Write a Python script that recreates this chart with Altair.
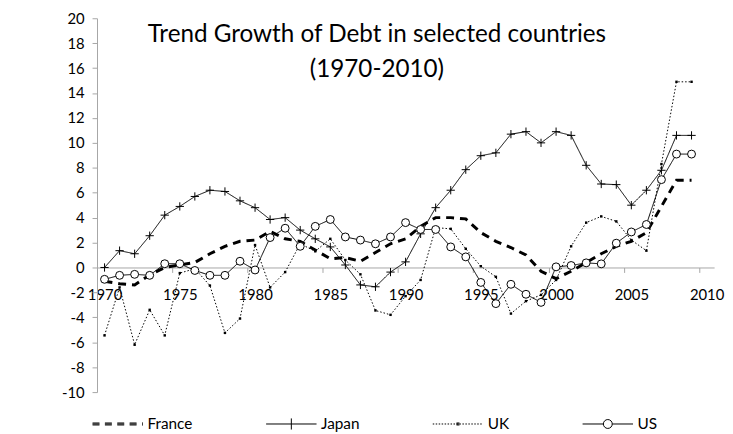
import altair as alt
import pandas as pd

# ---------------- data ----------------
years = list(range(1970, 2010))
countries = ["France", "Japan", "UK", "US"]

france = [-1.1, -1.3, -1.4, -0.6, 0.0, 0.2, 0.4, 1.1, 1.7, 2.1,
          2.2, 2.9, 2.3, 2.1, 1.4, 0.7, 0.8, 0.5, 1.2, 1.9,
          2.3, 3.3, 4.0, 4.0, 3.9, 2.8, 2.1, 1.6, 1.0, -0.3,
          -0.9, -0.3, 0.4, 1.1, 1.7, 2.1, 2.8, 4.9, 7.0, 7.0]
japan = [0.0, 1.35, 1.1, 2.55, 4.2, 4.9, 5.7, 6.2, 6.1, 5.35,
         4.8, 3.85, 4.0, 3.0, 2.3, 1.65, 0.2, -1.4, -1.55, -0.37,
         0.45, 2.7, 4.8, 6.2, 7.85, 8.97, 9.2, 10.7, 10.9, 10.0,
         10.9, 10.6, 8.2, 6.7, 6.65, 5.0, 6.2, 7.8, 10.6, 10.6]
uk = [-5.45, -1.6, -6.2, -3.4, -5.45, -0.45, -0.1, -1.45, -5.25, -4.1,
      1.8, -1.6, -0.37, 1.9, 1.3, 2.3, 0.6, -0.55, -3.45, -3.8,
      -2.3, -1.0, 3.2, 3.1, 1.5, 0.1, -0.75, -3.7, -2.7, -2.2,
      -1.0, 1.7, 3.6, 4.1, 3.7, 2.2, 1.35, 8.3, 14.9, 14.9]
us = [-0.95, -0.63, -0.55, -0.63, 0.3, 0.3, -0.24, -0.63, -0.63, 0.5,
      -0.2, 2.4, 3.15, 1.7, 3.3, 3.85, 2.45, 2.2, 1.9, 2.45,
      3.6, 3.05, 3.05, 1.65, 0.85, -1.2, -2.9, -1.35, -2.15, -2.8,
      0.05, 0.16, 0.37, 0.29, 1.95, 2.85, 3.45, 7.05, 9.1, 9.1]

x_labels = list(range(1970, 2011, 5))
y_ticks = list(range(-10, 21, 2))
title_lines = ["Trend Growth of Debt in selected countries", "(1970-2010)"]

rows = []
for name, vals in zip(countries, [france, japan, uk, us]):
    for yr, v in zip(years, vals):
        rows.append({"year": yr, "country": name, "value": v})
df = pd.DataFrame(rows)
legend_df = df[df["year"] == years[0]].rename(columns={"country": "series"})

# ---------------- layout ----------------
W, H = 624, 378
half = W / 41 / 2          # half a category, in px
FONT = "Lato"

x_enc = alt.X("year:Q",
              scale=alt.Scale(domain=[1969.5, 2010.5], nice=False, zero=False),
              axis=alt.Axis(values=x_labels, format="d", title=None,
                            orient="bottom", offset=-H * 10 / 30,
                            tickOffset=-half, labelOffset=half,
                            tickSize=5, labelPadding=15, labelFlush=False,
                            labelOverlap=False))
y_enc = alt.Y("value:Q",
              scale=alt.Scale(domain=[-10, 20], nice=False, zero=False),
              axis=alt.Axis(values=y_ticks, title=None, tickSize=5,
                            labelPadding=8, labelExpr="'' + datum.value"))

base = alt.Chart(df).encode(x=x_enc, y=y_enc, order="year:Q")


def line_for(name, dash, width):
    return base.mark_line(color="black", strokeDash=dash, strokeWidth=width
                          ).transform_filter(alt.datum.country == name)


l_fr = line_for("France", [8, 6], 3)
l_jp = line_for("Japan", [1, 0], 1)
l_uk = line_for("UK", [1.5, 2], 1)
l_us = line_for("US", [1, 0], 1)

cross_path = "M-1,0H1M0,-1V1"
jp_pts = base.mark_point(shape=cross_path, size=70, stroke="black",
                         strokeWidth=1, filled=False, opacity=1
                         ).transform_filter(alt.datum.country == "Japan")
us_pts = base.mark_point(shape="circle", size=64, fill="white", stroke="black",
                         strokeWidth=1, filled=True, opacity=1
                         ).transform_filter(alt.datum.country == "US")
uk_pts = base.mark_point(shape="square", size=6, filled=True, color="black",
                         opacity=1).transform_filter(alt.datum.country == "UK")

# ---------------- legend symbols (line + marker drawn as one path) -------
R = 25.5          # half of symbol width in px
p = 1 / R


def seg(x0, x1, y=0.0):
    return f"M{x0:.4f},{y:.4f}H{x1:.4f}"


fr = ""
s = -1.0
while s < 1:
    e = min(s + 7 * p, 1)
    for dy in (-p, 0, p):
        fr += seg(s, e, dy)
    s += 12.5 * p

jp = seg(-1, 1) + "M0,-0.22V0.22"

ukp = ""
s = -1.0
while s < 1:
    ukp += seg(s, min(s + 1.5 * p, 1))
    s += 3 * p
for dy in (-p, 0, p):
    ukp += seg(-1.5 * p, 1.5 * p, dy)

rc = 4.5 * p
k = 0.5523 * rc
usp = (seg(-1, -rc) + seg(rc, 1) +
       f"M{rc:.4f},0C{rc:.4f},{k:.4f} {k:.4f},{rc:.4f} 0,{rc:.4f}"
       f"C{-k:.4f},{rc:.4f} {-rc:.4f},{k:.4f} {-rc:.4f},0"
       f"C{-rc:.4f},{-k:.4f} {-k:.4f},{-rc:.4f} 0,{-rc:.4f}"
       f"C{k:.4f},{-rc:.4f} {rc:.4f},{-k:.4f} {rc:.4f},0Z")

# this layer draws nothing itself (all rows filtered out); it only carries
# the legend, whose entries come from the explicit shape domain
legend_layer = alt.Chart(legend_df).mark_point(
    filled=False, color="black", strokeWidth=1
).encode(
    x=x_enc, y=y_enc,
    shape=alt.Shape("series:N",
                    scale=alt.Scale(domain=countries, range=[fr, jp, ukp, usp]),
                    legend=alt.Legend(title=None, orient="none", legendX=-5,
                                      legendY=384, direction="horizontal",
                                      columns=4, columnPadding=71.5,
                                      symbolSize=(2 * R) ** 2,
                                      symbolStrokeWidth=1,
                                      symbolStrokeColor="black",
                                      symbolFillColor="transparent",
                                      symbolOpacity=1,
                                      labelFont=FONT, labelFontSize=15.5,
                                      labelColor="black", labelOffset=4,
                                      padding=0, labelLimit=0)),
).transform_filter(alt.datum.year < 0)

chart = alt.layer(l_fr, l_jp, l_uk, l_us, uk_pts, jp_pts, us_pts,
                  legend_layer).properties(
    width=W, height=H,
    title=alt.TitleParams(text=title_lines, font=FONT, fontSize=24.5,
                          fontWeight="normal", color="black",
                          anchor="middle", frame="group", dx=-29,
                          offset=-72, lineHeight=36),
    autosize=alt.AutoSizeParams(type="none"),
    padding={"left": 90, "top": 8, "right": 11, "bottom": 40},
).configure_view(stroke=None).configure_axis(
    grid=False, labelFont=FONT, labelFontSize=15, labelColor="black",
    domainColor="#a6a6a6", tickColor="#a6a6a6", domainWidth=1, tickWidth=1,
)

chart.save("out.html", embed_options={"renderer": "svg", "actions": False})
